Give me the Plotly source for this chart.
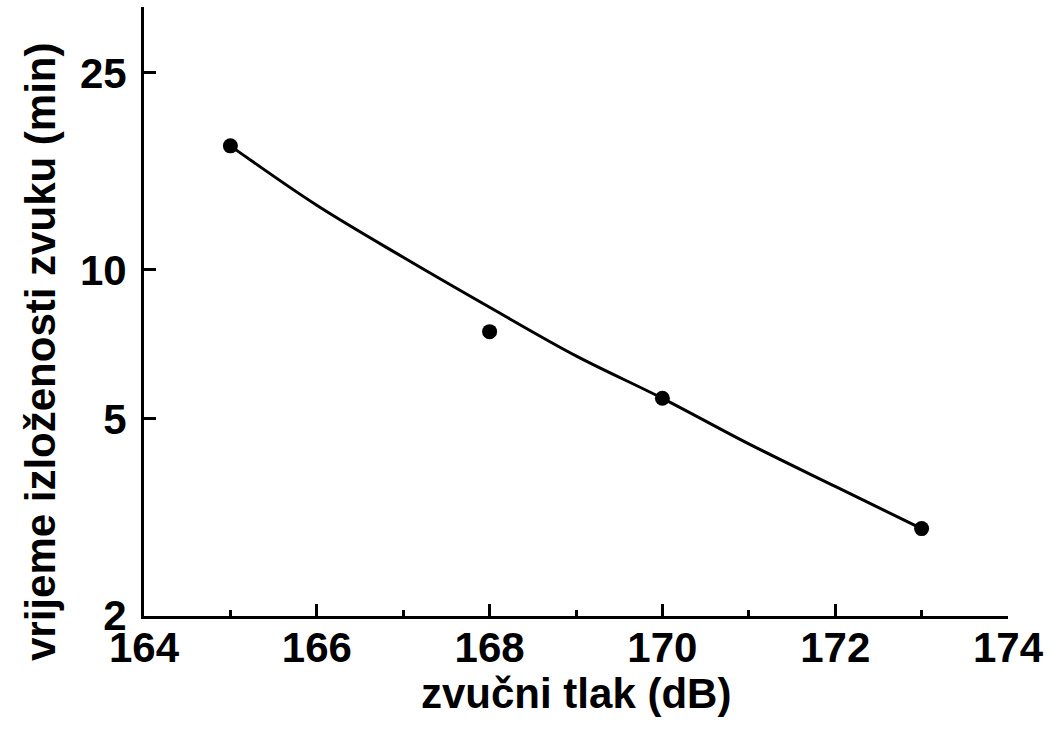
import math
import plotly.graph_objects as go

# Measured points (sound pressure level in dB, exposure time in minutes)
spl_points = [165, 168, 170, 173]
time_points = [17.8, 7.5, 5.5, 3.0]

# Fitted curve
spl_curve = [165, 166, 167, 168, 169, 170, 171, 172, 173]
time_curve = [17.8, 13.5, 10.6, 8.4, 6.7, 5.5, 4.45, 3.65, 3.0]

x_ticks = [164, 166, 168, 170, 172, 174]
y_ticks = [2, 5, 10, 25]
y_tick_text = ["2", "5", "10", "25"]

x_title = "zvučni tlak (dB)"
y_title = "vrijeme izloženosti zvuku (min)"

FONT = "Liberation Sans, Arial, sans-serif"

fig = go.Figure()
fig.add_trace(go.Scatter(
    x=spl_curve, y=time_curve, mode="lines",
    line=dict(color="black", width=3, shape="spline"),
    showlegend=False, hoverinfo="skip",
))
fig.add_trace(go.Scatter(
    x=spl_points, y=time_points, mode="markers",
    marker=dict(color="black", size=15),
    showlegend=False,
))

fig.update_layout(
    width=1049, height=738,
    margin=dict(l=144, r=41, t=7, b=122, autoexpand=False),
    paper_bgcolor="white", plot_bgcolor="white",
    font=dict(family=FONT, size=42, color="black", weight="bold"),
    xaxis=dict(
        range=[164, 174], tickvals=x_ticks, ticktext=[str(v) for v in x_ticks],
        showline=True, linecolor="black", linewidth=3,
        ticks="inside", ticklen=12, tickwidth=3, tickcolor="black",
        minor=dict(ticks="inside", ticklen=6, tickwidth=3, tickcolor="black", dtick=1, tick0=164, showgrid=False),
        showgrid=False, zeroline=False,
        ticklabelstandoff=-7,
        tickfont=dict(family=FONT, size=42, color="black", weight="bold"),
    ),
    yaxis=dict(
        type="log", range=[math.log10(2) - 0.0005, 1.531],
        tickvals=y_ticks, ticktext=y_tick_text,
        showline=True, linecolor="black", linewidth=3,
        ticks="inside", ticklen=12, tickwidth=3, tickcolor="black",
        showgrid=False, zeroline=False,
        ticklabelstandoff=6,
        tickfont=dict(family=FONT, size=42, color="black", weight="bold"),
    ),
    annotations=[
        dict(text=x_title, xref="paper", yref="paper", x=0.5, y=(616 - 693) / 609,
             xanchor="center", yanchor="middle", showarrow=False,
             font=dict(family=FONT, size=42, color="black", weight="bold")),
        dict(text=y_title, xref="paper", yref="paper", x=(40 - 144) / 864, y=(616 - 352) / 609,
             xanchor="center", yanchor="middle", showarrow=False, textangle=-90,
             font=dict(family=FONT, size=42, color="black", weight="bold")),
    ],
)

fig.write_html("out.html")
